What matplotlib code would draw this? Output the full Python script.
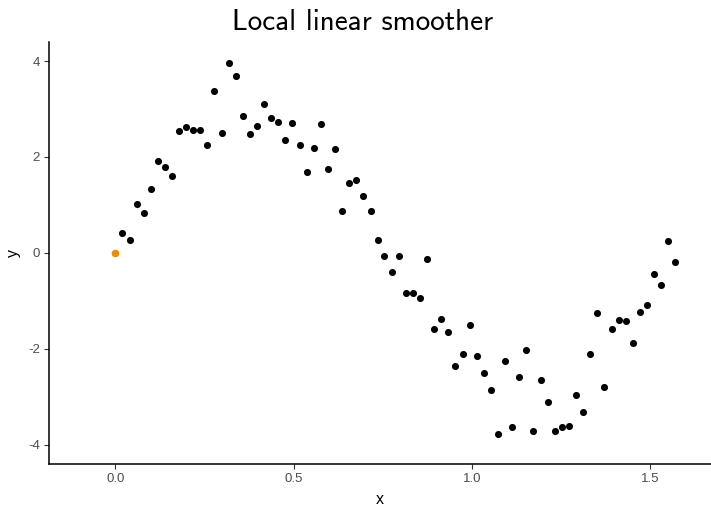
import matplotlib
matplotlib.use("Agg")
import matplotlib.pyplot as plt

# observed sample (x on an even grid from 0 to pi/2)
x = [0.000, 0.020, 0.040, 0.060, 0.080, 0.099, 0.119, 0.139, 0.159, 0.179,
     0.199, 0.219, 0.239, 0.258, 0.278, 0.298, 0.318, 0.338, 0.358, 0.378,
     0.398, 0.418, 0.437, 0.457, 0.477, 0.497, 0.517, 0.537, 0.557, 0.577,
     0.597, 0.616, 0.636, 0.656, 0.676, 0.696, 0.716, 0.736, 0.755, 0.775,
     0.795, 0.815, 0.835, 0.855, 0.875, 0.895, 0.915, 0.934, 0.954, 0.974,
     0.994, 1.014, 1.034, 1.054, 1.074, 1.094, 1.113, 1.133, 1.153, 1.173,
     1.193, 1.213, 1.233, 1.253, 1.273, 1.292, 1.312, 1.332, 1.352, 1.372,
     1.392, 1.412, 1.432, 1.452, 1.471, 1.491, 1.511, 1.531, 1.551, 1.571]
y = [0.00, 0.42, 0.28, 1.03, 0.83, 1.33, 1.92, 1.80, 1.61, 2.54,
     2.63, 2.57, 2.56, 2.26, 3.37, 2.49, 3.95, 3.69, 2.85, 2.48,
     2.64, 3.11, 2.82, 2.72, 2.35, 2.71, 2.24, 1.68, 2.18, 2.68,
     1.76, 2.17, 0.875, 1.45, 1.52, 1.19, 0.875, 0.27, -0.07, -0.40,
     -0.06, -0.83, -0.83, -0.93, -0.13, -1.58, -1.37, -1.65, -2.35, -2.10,
     -1.51, -2.15, -2.50, -2.85, -3.77, -2.26, -3.63, -2.58, -2.03, -3.72,
     -2.65, -3.10, -3.72, -3.63, -3.60, -2.96, -3.31, -2.11, -1.26, -2.79,
     -1.58, -1.40, -1.42, -1.88, -1.23, -1.08, -0.43, -0.67, 0.25, -0.19]

focus = 0  # index of the highlighted point
x_ticks = [0.0, 0.5, 1.0, 1.5]
x_labels = ["0.0", "0.5", "1.0", "1.5"]
y_ticks = [-4, -2, 0, 2, 4]
y_labels = ["-4", "-2", "0", "2", "4"]

plt.rcParams['font.family'] = ['Liberation Sans', 'DejaVu Sans']

fig = plt.figure(figsize=(7.11, 5.08), dpi=100)
ax = fig.add_axes([0.0689, 0.0866, 0.9311, 0.831])

others = [i for i in range(len(x)) if i != focus]
ax.scatter([x[i] for i in others], [y[i] for i in others], s=26, c='black',
           linewidths=0, zorder=3)
ax.scatter([x[focus]], [y[focus]], s=30, c='#F08C00', linewidths=0, zorder=4)

ax.set_xlim(-0.186, 1.671)
ax.set_ylim(-4.4, 4.4)
ax.set_xticks(x_ticks)
ax.set_xticklabels(x_labels)
ax.set_yticks(y_ticks)
ax.set_yticklabels(y_labels)

for side in ['top', 'right']:
    ax.spines[side].set_visible(False)
for side in ['left', 'bottom']:
    ax.spines[side].set_linewidth(1.1)
ax.tick_params(axis='both', length=3.5, width=0.8, color='#333333',
               labelcolor='#4d4d4d', labelsize=9.5, pad=3)

ax.set_xlabel("x", fontsize=11.5, labelpad=5)
ax.set_ylabel("y", fontsize=11.5, labelpad=5)
fig.text(363 / 711, 1 - 30 / 508, "Local linear smoother", fontsize=21,
         family='cmss10', ha='center', va='baseline')

fig.savefig("out.png", dpi=100)
